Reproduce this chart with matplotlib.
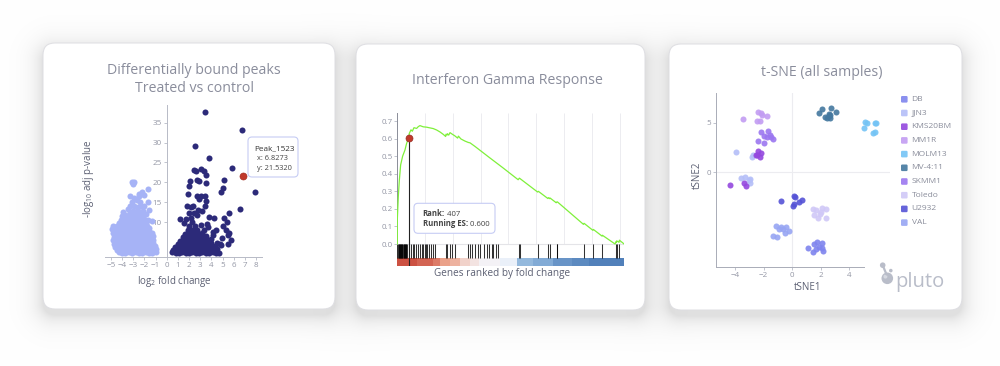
import numpy as np
import matplotlib
matplotlib.use("Agg")
import matplotlib.pyplot as plt
from matplotlib.patches import FancyBboxPatch, Circle
from matplotlib.colors import LinearSegmentedColormap, Normalize

plt.rcParams['font.family'] = ['Open Sans', 'DejaVu Sans']
plt.rcParams['mathtext.fontset'] = 'custom'
plt.rcParams['mathtext.rm'] = 'Open Sans'
plt.rcParams['mathtext.it'] = 'Open Sans'
plt.rcParams['mathtext.bf'] = 'Open Sans:bold'

# ------------------------------------------------------------------ data
# Volcano plot: (log2 fold change, -log10 adj p-value)
volcano_down_points = [
    (-4.3, 2.5), (-4.0, 2.3), (-3.7, 2.4), (-3.4, 2.6), (-3.1, 2.3), (-2.8, 2.5), (-2.5, 2.4), (-2.2, 2.3),
    (-1.9, 2.5), (-1.6, 2.4), (-1.3, 2.3), (-1.0, 2.5),
    (-4.5, 3.2), (-4.2, 3.0), (-3.9, 3.1), (-3.55, 3.2), (-3.25, 3.0), (-2.95, 3.1), (-2.65, 3.2), (-2.35, 3.0),
    (-2.05, 3.1), (-1.75, 3.2), (-1.45, 3.0), (-1.15, 3.1), (-0.95, 3.3),
    (-4.6, 3.9), (-4.3, 4.0), (-4.0, 3.8), (-3.7, 3.9), (-3.4, 4.0), (-3.1, 3.8), (-2.8, 3.9), (-2.5, 4.0),
    (-2.2, 3.8), (-1.9, 3.9), (-1.6, 4.0), (-1.3, 3.8), (-1.05, 4.1),
    (-4.7, 4.7), (-4.45, 4.8), (-4.15, 4.6), (-3.85, 4.7), (-3.55, 4.8), (-3.25, 4.6), (-2.95, 4.7), (-2.65, 4.8),
    (-2.35, 4.6), (-2.05, 4.7), (-1.75, 4.8), (-1.45, 4.6), (-1.2, 4.9),
    (-4.8, 5.5), (-4.5, 5.6), (-4.2, 5.4), (-3.9, 5.5), (-3.6, 5.6), (-3.3, 5.4), (-3.0, 5.5), (-2.7, 5.6),
    (-2.4, 5.4), (-2.1, 5.5), (-1.8, 5.6), (-1.5, 5.4), (-1.25, 5.6),
    (-4.75, 6.3), (-4.45, 6.4), (-4.15, 6.2), (-3.85, 6.3), (-3.55, 6.4), (-3.25, 6.2), (-2.95, 6.3), (-2.65, 6.4),
    (-2.35, 6.2), (-2.05, 6.3), (-1.75, 6.4), (-1.45, 6.2), (-1.2, 6.5),
    (-4.85, 7.3), (-4.5, 7.1), (-4.2, 7.0), (-3.9, 7.2), (-3.6, 7.1), (-3.3, 7.0), (-3.0, 7.2), (-2.7, 7.1),
    (-2.4, 7.0), (-2.1, 7.2), (-1.8, 7.1), (-1.5, 7.0), (-1.3, 7.4),
    (-4.9, 8.4), (-4.6, 8.0), (-4.3, 7.9), (-4.0, 8.1), (-3.7, 8.0), (-3.4, 7.9), (-3.1, 8.1), (-2.8, 8.0),
    (-2.5, 7.9), (-2.2, 8.1), (-1.9, 8.0), (-1.6, 7.9), (-4.8, 9.1),
    (-4.5, 9.0), (-4.2, 8.8), (-3.9, 8.9), (-3.6, 9.0), (-3.3, 8.8), (-3.0, 8.9), (-2.7, 9.0), (-2.4, 8.8),
    (-2.1, 8.9), (-1.8, 9.0), (-1.55, 8.7),
    (-4.3, 9.9), (-4.0, 9.7), (-3.7, 9.8), (-3.4, 9.9), (-3.1, 9.7), (-2.8, 9.8), (-2.5, 9.9), (-2.2, 9.7),
    (-1.9, 9.8), (-1.3, 10.3), (-1.7, 10.6),
    (-4.1, 10.7), (-3.8, 10.9), (-3.5, 10.8), (-3.2, 10.7), (-2.9, 10.9), (-2.6, 10.8), (-2.3, 10.7), (-2.0, 10.9),
    (-4.0, 11.6), (-3.7, 11.8), (-3.4, 11.9), (-3.1, 11.7), (-2.8, 11.8), (-2.5, 11.9), (-2.2, 11.7), (-1.9, 12.0),
    (-3.95, 12.7), (-3.5, 13.4), (-3.3, 12.6), (-3.0, 12.8), (-2.7, 12.9), (-2.4, 12.7), (-2.1, 12.8), (-1.6, 13.1),
    (-3.3, 14.0), (-2.9, 14.2), (-2.6, 13.8), (-2.3, 14.1), (-2.0, 14.1),
    (-3.1, 15.2), (-2.7, 15.5), (-2.4, 15.0), (-1.7, 15.0),
    (-3.3, 16.6), (-2.9, 16.2), (-2.45, 16.6),
    (-2.5, 17.1), (-2.2, 17.5), (-2.0, 16.9),
    (-1.7, 18.3),
    (-3.1, 20.0), (-2.9, 20.0), (-3.0, 19.6),
]

volcano_up_points = [
    (0.5, 2.5), (0.8, 2.3), (1.1, 2.4), (1.4, 2.5), (1.7, 2.3), (2.0, 2.4), (2.3, 2.5), (2.6, 2.3),
    (2.9, 2.4), (3.2, 2.5), (3.5, 2.3), (3.8, 2.4), (4.1, 2.5), (4.4, 2.3), (4.7, 2.4),
    (0.6, 3.1), (0.9, 3.2), (1.2, 3.0), (1.5, 3.1), (1.8, 3.2), (2.1, 3.0), (2.4, 3.1), (2.7, 3.2),
    (3.0, 3.0), (3.3, 3.1), (3.6, 3.2), (3.9, 3.0), (4.2, 3.1), (4.5, 3.3),
    (0.75, 3.9), (1.05, 4.0), (1.35, 3.8), (1.65, 3.9), (1.95, 4.0), (2.25, 3.8), (2.55, 3.9), (2.85, 4.0),
    (3.15, 3.8), (3.45, 3.9), (3.75, 4.0), (4.05, 3.8), (4.35, 4.1),
    (1.0, 4.7), (1.3, 4.8), (1.6, 4.6), (1.9, 4.7), (2.2, 4.8), (2.5, 4.6), (2.8, 4.7), (3.1, 4.8),
    (3.4, 4.6), (3.7, 4.7), (4.0, 4.9), (4.5, 4.8),
    (1.2, 5.4), (1.5, 5.6), (1.8, 5.5), (2.1, 5.4), (2.4, 5.6), (2.7, 5.5), (3.0, 5.4), (3.3, 5.6),
    (3.6, 5.5), (3.95, 5.8),
    (1.45, 6.3), (1.75, 6.2), (2.05, 6.4), (2.35, 6.3), (2.65, 6.2), (2.95, 6.4), (3.25, 6.3), (3.55, 6.6),
    (1.65, 7.2), (2.0, 7.1), (2.3, 7.3), (2.6, 7.2), (2.9, 7.1), (3.2, 7.4),
    (1.9, 8.2), (2.3, 8.0), (2.75, 8.2), (3.3, 8.1), (4.1, 7.6),
    (2.0, 9.2), (2.55, 9.0), (3.1, 9.3), (3.7, 8.9),
    (3.4, 37.6), (6.72, 33.1), (2.56, 29.2), (3.83, 26.1), (5.87, 23.5), (7.92, 17.6), (6.6, 13.4),
    (5.15, 20.7), (5.03, 18.6), (4.85, 17.7), (5.54, 12.4), (5.15, 11.2), (5.4, 10.0), (4.25, 11.2),
    (5.0, 9.1), (5.27, 8.1), (5.45, 6.8), (4.94, 6.1), (4.73, 4.7), (5.5, 4.7), (4.85, 4.3), (5.8, 5.5),
    (2.59, 22.8), (3.1, 23.4), (3.34, 22.9), (3.5, 21.9), (2.08, 20.3), (2.74, 20.7), (2.9, 20.3),
    (1.99, 19.2), (3.49, 19.8), (1.9, 17.1), (2.68, 16.5), (3.04, 16.5), (3.43, 16.5), (2.32, 14.1),
    (2.14, 13.8), (3.4, 14.1), (2.92, 15.8), (1.99, 12.3), (2.44, 12.3), (2.74, 11.8), (1.69, 10.8),
    (2.29, 10.2), (3.8, 11.3), (3.55, 15.3), (2.45, 23.0), (1.8, 14.2), (1.2, 10.8), (3.2, 12.8),
    (2.8, 13.2), (3.6, 9.7), (4.4, 8.0), (4.1, 6.9), (2.2, 11.0), (1.5, 9.8), (5.6, 7.4),
]
highlight_peak = ("Peak_1523", 6.8273, 21.5320)
volcano_xticks = [-5, -4, -3, -2, -1, 0, 1, 2, 3, 4, 5, 6, 7, 8]
volcano_yticks = [10, 15, 20, 25, 30, 35]

# GSEA running enrichment score: (rank, ES)
es_curve = [
    (0, 0.0), (0, 0.137), (36, 0.27), (72, 0.36), (120, 0.45), (192, 0.50), (276, 0.535), (330, 0.57),
    (407, 0.605), (432, 0.63), (492, 0.65), (540, 0.642), (600, 0.662), (695, 0.658), (755, 0.668),
    (815, 0.674), (935, 0.667), (1055, 0.665), (1175, 0.661), (1295, 0.657), (1415, 0.649), (1535, 0.638),
    (1655, 0.624), (1740, 0.612), (1753, 0.625), (1790, 0.62), (1801, 0.628), (1850, 0.62), (1897, 0.634),
    (1960, 0.627), (2077, 0.615), (2170, 0.603), (2200, 0.614), (2290, 0.598), (2434, 0.586), (2557, 0.578),
    (2617, 0.576), (2800, 0.555), (3300, 0.494), (3800, 0.434), (4350, 0.366), (4393, 0.375), (4420, 0.372),
    (5050, 0.296), (5077, 0.300), (5420, 0.259), (5437, 0.264), (5490, 0.258), (5497, 0.262), (5720, 0.235),
    (5737, 0.239), (5761, 0.240), (6700, 0.112), (6721, 0.118), (7040, 0.078), (7057, 0.083), (7370, 0.045),
    (7381, 0.050), (7840, 0.0), (7861, 0.012), (7880, 0.008), (7897, 0.018), (7980, 0.010), (7993, 0.022),
    (8165, 0.0),
]
gene_hits = [
    5, 25, 45, 65, 85, 105, 125, 145, 165, 185, 205, 225, 245, 265, 285, 305, 325, 345,
    421, 481, 553, 601, 673, 757, 817, 877, 937, 997, 1033, 1081, 1153, 1201, 1273, 1357,
    1753, 1801, 1897, 1957, 2077, 2557, 2617, 2677, 2797, 2917, 2977, 3121, 3217, 3313, 3397,
    3457, 3553, 3637, 4393, 4417, 5077, 5437, 5497, 5737, 5761, 6721, 7057, 7381, 7861, 7897, 7993,
]
n_genes = 8170
grid_ranks = [1000, 2000, 3000, 4000, 5000, 6000, 7000, 8000]
strip_edges = [0, 700, 1300, 1550, 1900, 2250, 2600, 2950, 3700, 4300, 4900, 5600, 6300, 6900, 8170]
strip_values = [0.95, 0.85, 0.72, 0.52, 0.42, 0.22, 0.12, 0.03, -0.05, -0.45, -0.55, -0.72, -0.8, -0.88]
selected_rank, selected_es = 407, 0.605
es_yticks = [0.0, 0.1, 0.2, 0.3, 0.4, 0.5, 0.6, 0.7]

# t-SNE
sample_names = ["DB", "JJN3", "KMS20BM", "MM1R", "MOLM13", "MV-4:11", "SKMM1", "Toledo", "U2932", "VAL"]
sample_colors = ["#7f84ee", "#b4bef8", "#9448de", "#c29cf2", "#74c4f5", "#44789f", "#9b77f0",
                 "#d0c8f7", "#5553d6", "#97a5f3"]
tsne_x = [
    [1.10, 1.52, 1.72, 2.10, 1.84, 2.10, 2.14, 1.45, 1.68],
    [-3.92, -2.80, -2.73, -3.57, -3.33, -2.98, -2.98, -3.05],
    [-2.40, -2.17, -2.45, -2.26, -2.52, -4.38, -3.38, -3.22],
    [-2.40, -2.12, -1.79, -2.26, -2.45, -3.47, -2.17],
    [5.06, 4.99, 5.22, 5.80, 5.87, 5.64, 5.76],
    [1.86, 2.07, 2.54, 2.72, 3.08, 2.31, 2.45, 2.66, 2.54, 2.61],
    [-2.17, -1.70, -2.00, -1.77, -1.52, -1.35, -2.40, -1.98, -1.56],
    [1.47, 1.68, 2.05, 2.33, 1.52, 1.91, 1.79, 2.35, 2.03],
    [-0.77, 0.09, 0.16, 0.12, 0.05, 0.47, 0.70],
    [-1.12, -0.77, -0.42, -0.96, -0.65, -0.54, -0.26, -1.33, -1.07],
]
tsne_y = [
    [-7.65, -7.21, -7.05, -7.15, -7.55, -7.65, -7.92, -8.05, -7.75],
    [2.08, 1.51, 1.71, -0.54, -0.50, -0.70, -1.04, -0.80],
    [2.15, 1.91, 1.74, 1.51, 1.74, -1.28, -1.11, -1.34],
    [6.04, 5.77, 5.70, 5.20, 5.17, 5.37, 5.95],
    [5.10, 4.43, 4.93, 4.93, 5.00, 3.93, 4.03],
    [5.94, 6.34, 5.87, 6.44, 6.11, 5.54, 5.44, 5.44, 5.67, 5.77],
    [4.09, 4.16, 3.66, 3.59, 3.52, 3.36, 3.19, 2.92, 3.80],
    [-3.66, -3.79, -3.59, -3.72, -4.30, -4.19, -4.63, -4.63, -3.96],
    [-2.85, -2.38, -2.45, -3.19, -3.39, -2.95, -2.79],
    [-5.40, -5.47, -5.47, -5.74, -5.74, -6.07, -5.87, -6.41, -6.48],
]
tsne_xticks = [-4, -2, 0, 2, 4]
tsne_yticks = [0, 5]

# ------------------------------------------------------------------ layout / style
W, H = 1000, 366
TITLE_C = "#8a8d9c"
TICK_C = "#9497a5"
LABEL_C = "#5c6073"
AXIS_C = "#b7bac6"
cards = [(43, 43, 335, 309), (356, 44, 645, 310), (669, 44, 962, 310)]

fig = plt.figure(figsize=(W / 100, H / 100), dpi=100)


def frect(l, t, r, b):
    return [l / W, 1 - b / H, (r - l) / W, (b - t) / H]


# background with soft card shadows
bg = fig.add_axes([0, 0, 1, 1], zorder=-10)
bg.set_xlim(0, W)
bg.set_ylim(H, 0)
bg.axis("off")
yy, xx = np.mgrid[0:H, 0:W] + 0.5
shade = np.zeros((H, W))
for (x0, y0, x1, y1) in cards:
    r = 12
    cx, cy = (x0 + x1) / 2, (y0 + y1) / 2 + 6
    hx, hy = (x1 - x0) / 2 - r, (y1 - y0) / 2 - r
    qx = np.abs(xx - cx) - hx
    qy = np.abs(yy - cy) - hy
    d = np.hypot(np.maximum(qx, 0), np.maximum(qy, 0)) + np.minimum(np.maximum(qx, qy), 0) - r
    shade += 0.12 * np.exp(-np.clip(d, 0, None) / 10.0)
shade = np.clip(shade, 0, 0.2)
img = np.dstack([1 - shade] * 3)
bg.imshow(img, extent=(0, W, H, 0), aspect="auto", interpolation="bilinear", zorder=0)
for (x0, y0, x1, y1) in cards:
    bg.add_patch(FancyBboxPatch((x0, y0), x1 - x0, y1 - y0,
                                boxstyle="round,pad=0,rounding_size=12",
                                fc="white", ec="#dedee2", lw=0.7, zorder=2))


def style_ticks(ax):
    ax.tick_params(colors=AXIS_C, labelcolor=TICK_C, labelsize=5.8, length=2.2, width=0.6, pad=1.3)


# ---------------- volcano
ax1 = fig.add_axes(frect(105.4, 105, 261.6, 256.7), facecolor="none")
ax1.set_xlim(-5.5, 8.5)
ax1.set_ylim(1.4, 39.4)
dx, dy = zip(*volcano_down_points)
ux, uy = zip(*volcano_up_points)
ax1.scatter(dx, dy, s=19, c="#a6b3f6", lw=0, zorder=2)
ax1.scatter(ux, uy, s=19, c="#2c2a79", lw=0, zorder=3)
ax1.scatter([highlight_peak[1]], [highlight_peak[2]], s=26, c="#c0392b",
            edgecolors="#a02c22", lw=0.4, zorder=5)
for s in ["top", "right"]:
    ax1.spines[s].set_visible(False)
ax1.spines["left"].set_position(("data", 0))
for s in ["left", "bottom"]:
    ax1.spines[s].set_color(AXIS_C)
    ax1.spines[s].set_linewidth(0.7)
ax1.set_xticks(volcano_xticks)
ax1.set_xticklabels([("\u2212%d" % -v) if v < 0 else str(v) for v in volcano_xticks])
ax1.set_yticks(volcano_yticks)
style_ticks(ax1)

# ---------------- GSEA
ax2 = fig.add_axes(frect(397.3, 113.3, 624.3, 266), facecolor="none")
ax2.set_xlim(0, n_genes)
ax2.set_ylim(-0.125, 0.744)
ax2.vlines(grid_ranks, 0, 0.744, color="#ececf0", lw=0.7, zorder=0)
ax2.hlines(0, 0, n_genes, color="#e4e4e8", lw=0.8, zorder=0)
er, ev = zip(*es_curve)
ax2.plot(er, ev, color="#7ff03a", lw=0.9, zorder=3)
ax2.vlines(gene_hits, -0.0815, 0, color="black", lw=0.75, alpha=0.8, zorder=2)
cmap = LinearSegmentedColormap.from_list(
    "gsea", [(0.0, "#3f70b0"), (0.25, "#8ab2da"), (0.5, "#f5f7fc"), (0.75, "#eba58d"), (1.0, "#c9483a")])
norm = Normalize(-1, 1)
lefts = strip_edges[:-1]
widths = [b - a for a, b in zip(strip_edges[:-1], strip_edges[1:])]
ax2.bar(lefts, 0.0435, width=widths, bottom=-0.125, align="edge",
        color=[cmap(norm(v)) for v in strip_values], lw=0, zorder=1)
ax2.vlines([selected_rank], -0.125, selected_es, color="#222222", lw=0.8, zorder=4)
ax2.scatter([selected_rank], [selected_es], s=26, c="#c0392b", edgecolors="#8e2a20", lw=0.4, zorder=5)
for s in ["top", "right", "bottom"]:
    ax2.spines[s].set_visible(False)
ax2.spines["left"].set_bounds(0, 0.744)
ax2.spines["left"].set_color("#8a8d98")
ax2.spines["left"].set_linewidth(0.7)
ax2.set_xticks([])
ax2.set_yticks(es_yticks)
ax2.set_yticklabels(["%.1f" % v for v in es_yticks])
style_ticks(ax2)

# ---------------- t-SNE
ax3 = fig.add_axes(frect(715.7, 93.3, 889.5, 266.7), facecolor="none")
ax3.set_xlim(-5.36, 6.8)
ax3.set_ylim(-9.5, 7.96)
ax3.axhline(0, color="#ececf0", lw=0.8, zorder=0)
ax3.axvline(0, color="#ececf0", lw=0.8, zorder=0)
for xs, ys, c in zip(tsne_x, tsne_y, sample_colors):
    ax3.scatter(xs, ys, s=19, c=c, lw=0, alpha=0.9, zorder=3)
for s in ["top", "right"]:
    ax3.spines[s].set_visible(False)
ax3.spines["bottom"].set_bounds(-5.36, 5.05)
for s in ["left", "bottom"]:
    ax3.spines[s].set_color("#a9acb7")
    ax3.spines[s].set_linewidth(0.7)
ax3.set_xticks(tsne_xticks)
ax3.set_xticklabels([("\u2212%d" % -v) if v < 0 else str(v) for v in tsne_xticks])
ax3.set_yticks(tsne_yticks)
style_ticks(ax3)

# ---------------- overlay: titles, labels, tooltips, legend, logo
ov = fig.add_axes([0, 0, 1, 1], facecolor="none", zorder=20)
ov.set_xlim(0, W)
ov.set_ylim(H, 0)
ov.axis("off")

ov.text(194.3, 74, "Differentially bound peaks", ha="center", va="baseline", fontsize=10.2, color=TITLE_C)
ov.text(194.3, 92.3, "Treated vs control", ha="center", va="baseline", fontsize=10.2, color=TITLE_C)
ov.text(507.7, 84, "Interferon Gamma Response", ha="center", va="baseline", fontsize=10.2, color=TITLE_C)
ov.text(821.3, 76, "t-SNE (all samples)", ha="center", va="baseline", fontsize=10.2, color=TITLE_C)

ov.text(174.2, 284.3, r"log$_{\mathregular{2}}$ fold change", ha="center", va="baseline",
        fontsize=7, color=LABEL_C)
ov.text(88, 179, r"-log$_{\mathregular{10}}$ adj p-value", ha="center", va="center",
        rotation=90, fontsize=7, color=LABEL_C)
ov.text(502.5, 276, "Genes ranked by fold change", ha="center", va="baseline", fontsize=7.2, color=LABEL_C)
ov.text(807.7, 290.5, "tSNE1", ha="center", va="baseline", fontsize=7, color=LABEL_C)
ov.text(697.3, 175, "tSNE2", ha="center", va="center", rotation=90, fontsize=7, color=LABEL_C)

# volcano tooltip
ov.add_patch(FancyBboxPatch((248, 137), 50, 40, boxstyle="round,pad=0,rounding_size=4",
                            fc="white", ec="#c6ccf4", lw=0.8, zorder=5))
ov.text(254, 150, highlight_peak[0], ha="left", va="baseline", fontsize=5.9, color="#333333", zorder=6)
ov.text(257, 160.5, "x: %.4f" % highlight_peak[1], ha="left", va="baseline", fontsize=5.3,
        color="#444444", zorder=6)
ov.text(257, 170, "y: %.4f" % highlight_peak[2], ha="left", va="baseline", fontsize=5.3,
        color="#444444", zorder=6)

# GSEA tooltip
ov.add_patch(FancyBboxPatch((414, 203.3), 81, 30, boxstyle="round,pad=0,rounding_size=4",
                            fc="white", ec="#c6ccf4", lw=0.8, zorder=5))
t1 = ov.text(422.7, 215.5, "Rank:", ha="left", va="baseline", fontsize=5.6, fontweight="bold",
             color="#444444", zorder=6)
ov.annotate(" %d" % selected_rank, xy=(1, 0), xycoords=t1, ha="left", va="bottom", fontsize=5.6,
            color="#444444", zorder=6)
t2 = ov.text(422.7, 226, "Running ES:", ha="left", va="baseline", fontsize=5.6, fontweight="bold",
             color="#444444", zorder=6)
ov.annotate(" %.3f" % 0.600, xy=(1, 0), xycoords=t2, ha="left", va="bottom", fontsize=5.6,
            color="#444444", zorder=6)

# t-SNE legend
for i, (name, c) in enumerate(zip(sample_names, sample_colors)):
    yc = 99.3 + i * 13.7
    ov.add_patch(FancyBboxPatch((901, yc - 3.3), 6.6, 6.6, boxstyle="round,pad=0,rounding_size=1.2",
                                fc=c, ec="none", alpha=0.9))
    ov.text(911.5, yc, name, ha="left", va="center", fontsize=6.0, color="#8a8d9b")

# pluto logo
LOGO_C = "#b9bdc9"
ov.plot([882.7, 886.5], [265.2, 274.5], color=LOGO_C, lw=1.6, solid_capstyle="round")
ov.add_patch(Circle((887.3, 278.3), 5.8, fc=LOGO_C, ec="none"))
ov.add_patch(Circle((885.4, 276.6), 2.0, fc="#d6d9e1", ec="none"))
ov.add_patch(Circle((882.7, 265.2), 2.8, fc=LOGO_C, ec="none"))
ov.add_patch(Circle((890.8, 270.6), 1.8, fc=LOGO_C, ec="none"))
ov.text(895.5, 286.7, "pluto", ha="left", va="baseline", fontsize=14.5, color=LOGO_C)

fig.savefig("out.png", dpi=100)
